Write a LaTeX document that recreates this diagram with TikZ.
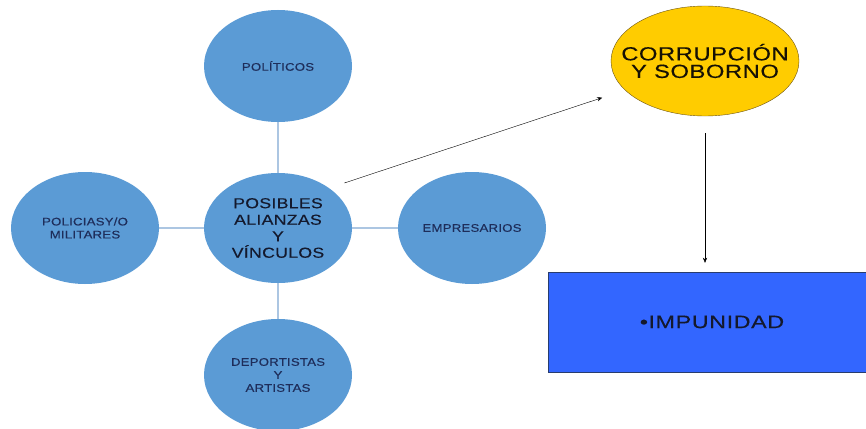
\documentclass[tikz,border=0pt]{standalone}
\usepackage{fontspec}
\setmainfont{Liberation Sans}
\usepackage{tikz}
\usepackage{xcolor}
\usetikzlibrary{shapes.geometric, arrows.meta, positioning}
\definecolor{cBlob}{RGB}{91,155,213}
\definecolor{cInk}{RGB}{30,45,90}
\definecolor{cHubInk}{RGB}{20,25,45}
\definecolor{cLink}{RGB}{172,198,226}
\definecolor{cGold}{RGB}{255,204,0}
\definecolor{cGoldLine}{RGB}{110,85,20}
\definecolor{cBox}{RGB}{51,102,255}
\definecolor{cBoxLine}{RGB}{40,60,110}
\tikzset{
	blob/.style   ={ellipse, fill=cBlob, minimum width=148pt, minimum height=112pt, inner sep=0pt, align=center, text=cInk, font=\fontsize{11}{13}\selectfont\addfontfeatures{FakeStretch=1.2, LetterSpace=2, FakeBold=0.3}},
	hub/.style    ={blob, minimum height=110pt, text=cHubInk, font=\fontsize{14.5}{16.5}\selectfont\addfontfeatures{FakeStretch=1.22, LetterSpace=2, FakeBold=0.3}},
	link/.style   ={draw=cLink, line width=1.2pt},
	goldblob/.style={ellipse, draw=cGoldLine, fill=cGold, minimum width=188pt, minimum height=110pt, inner ysep=0pt, inner xsep=-26pt, align=center, text=black!80!cGoldLine, font=\fontsize{19}{17.5}\selectfont\addfontfeatures{FakeStretch=1.25, LetterSpace=3, FakeBold=0.3}},
	outbox/.style ={rectangle, draw=cBoxLine, fill=cBox, minimum width=328pt, minimum height=100pt, inner sep=0pt, text=cHubInk, font=\fontsize{18}{20}\selectfont\addfontfeatures{FakeStretch=1.3, LetterSpace=3, FakeBold=0.3}},
	flowarrow/.style={-{Stealth[length=1.8mm, width=1.5mm]}, thin},
}

\begin{document}
\begin{tikzpicture}[x=1pt, y=-1pt]
	\useasboundingbox (0,0) rectangle (866,428);
	\clip (0,0) rectangle (866,428);
	% ring of actors round the hub
	\node[hub]  (hub)    at (278,228) {POSIBLES\\ALIANZAS\\Y\\VÍNCULOS};
	\node[blob] (polit)  at (278,66)  {POLÍTICOS};
	\node[blob] (polic)  at (85,228)  {POLICIASY/O\\MILITARES};
	\node[blob] (empre)  at (472,228) {EMPRESARIOS};
	\node[blob] (depor)  at (278,375) {DEPORTISTAS\\Y\\ARTISTAS};
	\draw[link] (polit) -- (hub);
	\draw[link] (hub) -- (depor);
	\draw[link] (polic) -- (hub);
	\draw[link] (hub) -- (empre);
	% consequences
	\node[goldblob] (corrup) at (705,61)  {CORRUPCIÓN\\Y SOBORNO};
	\node[outbox]   (impun)  at (712,322) {\textbullet IMPUNIDAD};
	\draw[flowarrow, shorten <=16pt, shorten >=24pt] (hub.38) -- (corrup.200);
	\draw[flowarrow, shorten <=17pt, shorten >=9pt] (corrup.south) -- (corrup.south |- impun.north);
\end{tikzpicture}
\end{document}
